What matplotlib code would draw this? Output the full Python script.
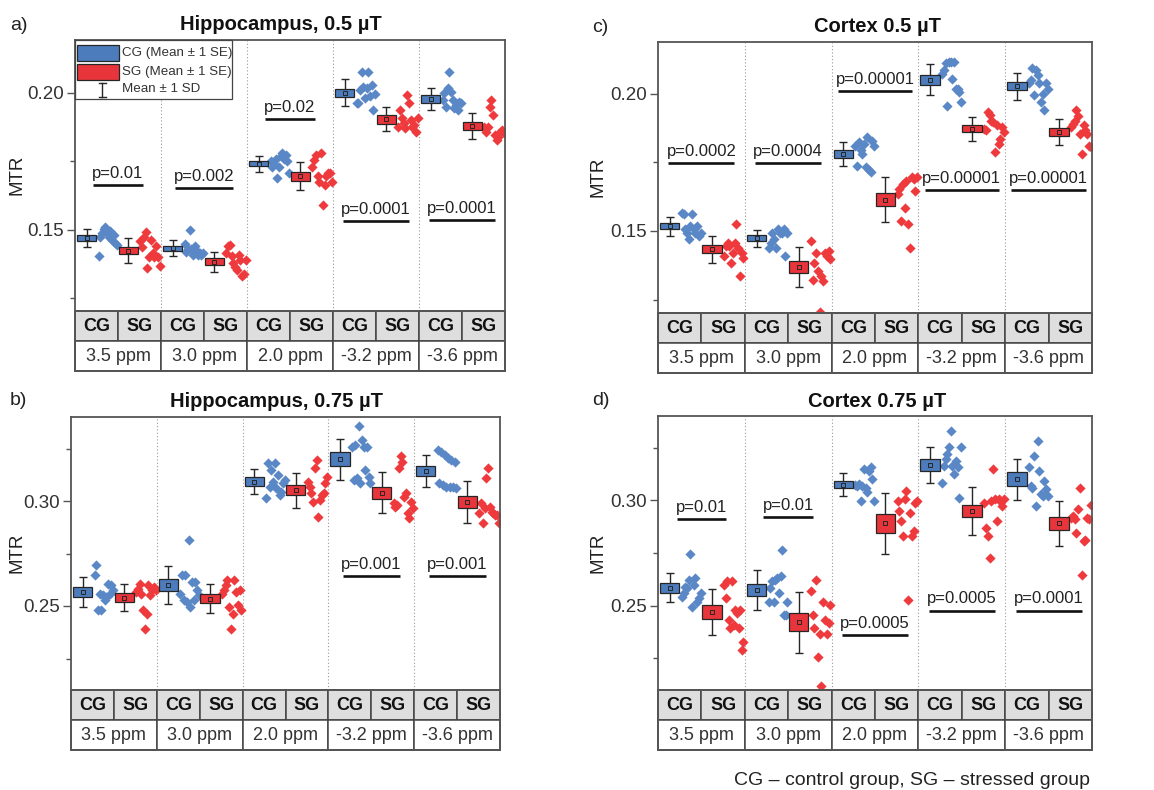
import numpy as np
import matplotlib.pyplot as plt
from matplotlib.patches import Rectangle

plt.rcParams["font.family"] = ["Liberation Sans", "DejaVu Sans"]

FIG_W, FIG_H = 1154, 790

shifts = ["3.5 ppm", "3.0 ppm", "2.0 ppm", "-3.2 ppm", "-3.6 ppm"]
groups = ["CG", "SG"]

# --- Hippocampus, 0.5 uT ---
hip05_cg_mean = [0.1470, 0.1433, 0.1741, 0.2001, 0.1977]
hip05_cg_se = [0.0011, 0.0009, 0.0009, 0.0015, 0.0014]
hip05_cg_sd = [0.0032, 0.0029, 0.0029, 0.0050, 0.0040]
hip05_sg_mean = [0.1424, 0.1384, 0.1696, 0.1904, 0.1879]
hip05_sg_se = [0.0012, 0.0013, 0.0017, 0.0016, 0.0015]
hip05_sg_sd = [0.0045, 0.0037, 0.0052, 0.0044, 0.0047]
hip05_cg_pts = [
    [0.1405, 0.1475, 0.1488, 0.1505, 0.1512, 0.1488, 0.1475, 0.1495, 0.1463, 0.1480, 0.1452, 0.1445],
    [0.1450, 0.1420, 0.1430, 0.1500, 0.1430, 0.1410, 0.1440, 0.1427, 0.1410, 0.1415, 0.1410, 0.1415],
    [0.1750, 0.1730, 0.1740, 0.1760, 0.1689, 0.1730, 0.1768, 0.1780, 0.1760, 0.1775, 0.1750, 0.1707],
    [0.1962, 0.1962, 0.2011, 0.2078, 0.2023, 0.1981, 0.2017, 0.2078, 0.1987, 0.2029, 0.1938, 0.1995],
    [0.1974, 0.1999, 0.1950, 0.2017, 0.2078, 0.2005, 0.1974, 0.1944, 0.1956, 0.1938, 0.1968, 0.1962],
]
hip05_sg_pts = [
    [0.1460, 0.1439, 0.1475, 0.1493, 0.1360, 0.1400, 0.1463, 0.1415, 0.1400, 0.1440, 0.1400, 0.1370],
    [0.1415, 0.1440, 0.1445, 0.1403, 0.1378, 0.1366, 0.1354, 0.1409, 0.1390, 0.1330, 0.1340, 0.1390],
    [0.1730, 0.1755, 0.1774, 0.1695, 0.1676, 0.1780, 0.1590, 0.1664, 0.1695, 0.1707, 0.1707, 0.1676],
    [0.1877, 0.1938, 0.1907, 0.1889, 0.1871, 0.1993, 0.1962, 0.1901, 0.1877, 0.1883, 0.1859, 0.1907],
    [0.1877, 0.1859, 0.1877, 0.1950, 0.1974, 0.1920, 0.1847, 0.1828, 0.1840, 0.1859, 0.1865, 0.1853],
]
hip05_p_text = ["p=0.01", "p=0.002", "p=0.02", "p=0.0001", "p=0.0001"]
hip05_p_y = [0.1663, 0.1654, 0.1904, 0.1533, 0.1536]

# --- Cortex 0.5 uT ---
ctx05_cg_mean = [0.1517, 0.1473, 0.1780, 0.2051, 0.2027]
ctx05_cg_se = [0.0011, 0.0011, 0.0016, 0.0018, 0.0015]
ctx05_cg_sd = [0.0034, 0.0032, 0.0043, 0.0057, 0.0049]
ctx05_sg_mean = [0.1433, 0.1368, 0.1613, 0.1872, 0.1860]
ctx05_sg_se = [0.0015, 0.0023, 0.0024, 0.0012, 0.0015]
ctx05_sg_sd = [0.0049, 0.0072, 0.0082, 0.0044, 0.0048]
ctx05_cg_pts = [
    [0.1567, 0.1560, 0.1506, 0.1494, 0.1470, 0.1518, 0.1560, 0.1506, 0.1494, 0.1518, 0.1480, 0.1494],
    [0.1439, 0.1457, 0.1494, 0.1470, 0.1439, 0.1506, 0.1494, 0.1494, 0.1506, 0.1408, 0.1494],
    [0.1811, 0.1738, 0.1823, 0.1793, 0.1781, 0.1817, 0.1732, 0.1841, 0.1720, 0.1713, 0.1829, 0.1811],
    [0.2073, 0.2085, 0.2110, 0.1955, 0.2116, 0.2116, 0.2055, 0.2116, 0.2018, 0.2018, 0.2006, 0.1970],
    [0.2037, 0.2049, 0.2092, 0.1994, 0.2085, 0.2067, 0.2037, 0.1970, 0.2000, 0.1939, 0.2037, 0.2018],
]
ctx05_sg_pts = [
    [0.1408, 0.1445, 0.1457, 0.1445, 0.1384, 0.1420, 0.1457, 0.1524, 0.1439, 0.1335, 0.1420, 0.1402],
    [0.1463, 0.1323, 0.1384, 0.1420, 0.1353, 0.1205, 0.1335, 0.1317, 0.1420, 0.1408, 0.1427, 0.1396],
    [0.1634, 0.1652, 0.1536, 0.1670, 0.1585, 0.1683, 0.1524, 0.1439, 0.1695, 0.1689, 0.1646, 0.1695],
    [0.1872, 0.1866, 0.1933, 0.1921, 0.1902, 0.1896, 0.1787, 0.1884, 0.1817, 0.1835, 0.1878, 0.1860],
    [0.1878, 0.1890, 0.1902, 0.1939, 0.1920, 0.1854, 0.1780, 0.1884, 0.1866, 0.1854, 0.1811, 0.1805],
]
ctx05_p_text = ["p=0.0002", "p=0.0004", "p=0.00001", "p=0.00001", "p=0.00001"]
ctx05_p_y = [0.1747, 0.1747, 0.2009, 0.1649, 0.1649]

# --- Hippocampus, 0.75 uT ---
hip075_cg_mean = [0.2567, 0.2600, 0.3092, 0.3199, 0.3143]
hip075_cg_se = [0.0022, 0.0028, 0.0020, 0.0032, 0.0025]
hip075_cg_sd = [0.0070, 0.0089, 0.0061, 0.0097, 0.0077]
hip075_sg_mean = [0.2540, 0.2535, 0.3052, 0.3040, 0.2995]
hip075_sg_se = [0.0020, 0.0021, 0.0024, 0.0029, 0.0029]
hip075_sg_sd = [0.0063, 0.0070, 0.0083, 0.0096, 0.0099]
hip075_cg_pts = [
    [0.2647, 0.2694, 0.2479, 0.2559, 0.2479, 0.2551, 0.2527, 0.2543, 0.2607, 0.2559, 0.2599, 0.2575],
    [0.2559, 0.2647, 0.2527, 0.2647, 0.2519, 0.2814, 0.2495, 0.2615, 0.2527, 0.2615, 0.2575, 0.2551],
    [0.3013, 0.3180, 0.3068, 0.3148, 0.3092, 0.3180, 0.3061, 0.3124, 0.3029, 0.3045, 0.3084, 0.3100],
    [0.3259, 0.3100, 0.3267, 0.3108, 0.3355, 0.3084, 0.3291, 0.3259, 0.3148, 0.3259, 0.3116, 0.3084],
    [0.3243, 0.3084, 0.3235, 0.3076, 0.3220, 0.3068, 0.3204, 0.3068, 0.3196, 0.3068, 0.3188, 0.3060],
]
hip075_sg_pts = [
    [0.2567, 0.2583, 0.2607, 0.2559, 0.2479, 0.2392, 0.2463, 0.2599, 0.2551, 0.2575, 0.2591, 0.2575],
    [0.2559, 0.2575, 0.2599, 0.2623, 0.2495, 0.2392, 0.2463, 0.2623, 0.2567, 0.2503, 0.2575, 0.2479],
    [0.3092, 0.3068, 0.3037, 0.2997, 0.3156, 0.3196, 0.2925, 0.3005, 0.3029, 0.3037, 0.3084, 0.3116],
    [0.2989, 0.2973, 0.2981, 0.3156, 0.3212, 0.3188, 0.3021, 0.3037, 0.2941, 0.2917, 0.2997, 0.2965],
    [0.2941, 0.2989, 0.2893, 0.2965, 0.3108, 0.3156, 0.2973, 0.2949, 0.2941, 0.2933, 0.2933, 0.2893],
]
hip075_p_text = [None, None, None, "p=0.001", "p=0.001"]
hip075_p_y = [None, None, None, 0.2644, 0.2642]

# --- Cortex 0.75 uT ---
ctx075_cg_mean = [0.2585, 0.2573, 0.3075, 0.3166, 0.3100]
ctx075_cg_se = [0.0024, 0.0029, 0.0016, 0.0029, 0.0032]
ctx075_cg_sd = [0.0068, 0.0094, 0.0053, 0.0086, 0.0097]
ctx075_sg_mean = [0.2471, 0.2422, 0.2890, 0.2949, 0.2890]
ctx075_sg_se = [0.0034, 0.0041, 0.0044, 0.0030, 0.0032]
ctx075_sg_sd = [0.0110, 0.0145, 0.0143, 0.0113, 0.0105]
ctx075_cg_pts = [
    [0.2543, 0.2559, 0.2591, 0.2583, 0.2623, 0.2747, 0.2495, 0.2599, 0.2631, 0.2519, 0.2535, 0.2559],
    [0.2519, 0.2583, 0.2615, 0.2519, 0.2623, 0.2631, 0.2559, 0.2639, 0.2766, 0.2456, 0.2456, 0.2519],
    [0.3072, 0.3068, 0.3076, 0.2997, 0.3068, 0.3148, 0.3060, 0.3040, 0.3140, 0.3156, 0.3100, 0.2997],
    [0.3084, 0.3164, 0.3196, 0.3220, 0.3252, 0.3331, 0.3164, 0.3124, 0.3188, 0.3156, 0.3013, 0.3252],
    [0.3156, 0.3068, 0.3060, 0.3212, 0.2973, 0.3283, 0.3140, 0.3029, 0.3021, 0.3092, 0.3052, 0.3021],
]
ctx075_sg_pts = [
    [0.2599, 0.2535, 0.2615, 0.2432, 0.2392, 0.2615, 0.2408, 0.2480, 0.2464, 0.2392, 0.2480, 0.2288, 0.2328],
    [0.2572, 0.2456, 0.2392, 0.2623, 0.2257, 0.2368, 0.2121, 0.2519, 0.2432, 0.2368, 0.2416, 0.2503],
    [0.2997, 0.2949, 0.2901, 0.2829, 0.3005, 0.3045, 0.2527, 0.2941, 0.2829, 0.2853, 0.2989, 0.2997],
    [0.2989, 0.2869, 0.2829, 0.2726, 0.2997, 0.3148, 0.3005, 0.2901, 0.3005, 0.2997, 0.2973, 0.3005],
    [0.2917, 0.2925, 0.2909, 0.2845, 0.2957, 0.3060, 0.2647, 0.2806, 0.2814, 0.2917, 0.2909, 0.2976],
]
ctx075_p_text = ["p=0.01", "p=0.01", "p=0.0005", "p=0.0005", "p=0.0001"]
ctx075_p_y = [0.2912, 0.2920, 0.2360, 0.2477, 0.2477]

CG_BOX = "#4d7cbc"
CG_DOT = "#5a87c6"
SG_BOX = "#e8353b"
SG_DOT = "#ee3a3d"
EDGE = "#262626"
FRAME = "#555555"
CELL_GRAY = "#dedede"


def fx(x):
    return x / FIG_W


def fy(y):
    return 1 - y / FIG_H


def px_axes(fig, x0, y0, x1, y1):
    return fig.add_axes([fx(x0), fy(y1), (x1 - x0) / FIG_W, (y1 - y0) / FIG_H])


def draw_group(ax, xc, mean, se, sd, face):
    ax.errorbar([xc], [mean], yerr=[sd], fmt="none", ecolor=EDGE, elinewidth=1.0,
                capsize=2.6, capthick=1.0, zorder=3)
    ax.add_patch(Rectangle((xc - 0.225, mean - se), 0.45, 2 * se, facecolor=face,
                           edgecolor=EDGE, linewidth=0.9, zorder=4))
    ax.plot([xc], [mean], marker="s", ms=3.2, mfc=face, mec=EDGE, mew=0.7, zorder=5)


def draw_panel(fig, box, ylim, major, minor, cg_mean, cg_se, cg_sd, sg_mean, sg_se, sg_sd,
               cg_pts, sg_pts, p_text, p_y):
    x0, y0, x1, y1 = box
    ax = px_axes(fig, x0, y0, x1, y1)
    ax.set_xlim(0, 10)
    ax.set_ylim(*ylim)
    for i in range(5):
        base = 2 * i
        draw_group(ax, base + 0.27, cg_mean[i], cg_se[i], cg_sd[i], CG_BOX)
        draw_group(ax, base + 1.24, sg_mean[i], sg_se[i], sg_sd[i], SG_BOX)
        xs = np.linspace(base + 0.55, base + 0.98, len(cg_pts[i]))
        ax.scatter(xs, cg_pts[i], marker="D", s=27, color=CG_DOT, linewidths=0, zorder=2)
        xs = np.linspace(base + 1.52, base + 1.97, len(sg_pts[i]))
        ax.scatter(xs, sg_pts[i], marker="D", s=27, color=SG_DOT, linewidths=0, zorder=2)
        if p_text[i] is not None:
            half = 0.095 * len(p_text[i])
            ax.plot([base + 1 - half, base + 1 + half], [p_y[i], p_y[i]], color="#111111",
                    lw=1.9, solid_capstyle="butt", zorder=3)
            ax.annotate(p_text[i], (base + 1, p_y[i]), xytext=(0, 3), textcoords="offset points",
                        ha="center", va="bottom", fontsize=12, color="#222222")
    for xv in (2, 4, 6, 8):
        ax.axvline(xv, color="#9a9a9a", lw=0.8, ls=(0, (1, 2)), zorder=1)
    ax.set_xticks([])
    ax.set_yticks(major)
    ax.set_yticks(minor, minor=True)
    ax.set_yticklabels(["%.2f" % v for v in major])
    ax.tick_params(axis="y", which="major", length=6, width=1, color=FRAME,
                   labelsize=13.5, labelcolor="#333333", pad=2)
    ax.tick_params(axis="y", which="minor", length=3.5, width=1, color=FRAME)
    for sp in ax.spines.values():
        sp.set_color(FRAME)
        sp.set_linewidth(1.3)

    # category table under the plot
    tb = px_axes(fig, x0, y1, x1, y1 + 60)
    tb.set_xlim(0, 10)
    tb.set_ylim(0, 2)
    tb.axis("off")
    for i in range(5):
        for k, g in enumerate(groups):
            tb.add_patch(Rectangle((2 * i + k, 1), 1, 1, facecolor=CELL_GRAY,
                                   edgecolor="#444444", lw=1.1, clip_on=False))
            tb.text(2 * i + k + 0.5, 1.5, g, ha="center", va="center", fontsize=13,
                    fontweight="bold", color="#111111")
        tb.add_patch(Rectangle((2 * i, 0), 2, 1, facecolor="white",
                               edgecolor="#444444", lw=1.1, clip_on=False))
        tb.text(2 * i + 1, 0.48, shifts[i], ha="center", va="center", fontsize=13,
                color="#333333")
    tb.add_patch(Rectangle((0, 0), 10, 2, facecolor="none", edgecolor=FRAME, lw=1.4,
                           clip_on=False))
    return ax


fig = plt.figure(figsize=(FIG_W / 100, FIG_H / 100), dpi=100)

draw_panel(fig, (75, 40, 505, 311), (0.1204, 0.2193), [0.15, 0.20], [0.125, 0.175],
           hip05_cg_mean, hip05_cg_se, hip05_cg_sd, hip05_sg_mean, hip05_sg_se, hip05_sg_sd,
           hip05_cg_pts, hip05_sg_pts, hip05_p_text, hip05_p_y)
draw_panel(fig, (658, 42, 1092, 313), (0.1201, 0.2188), [0.15, 0.20], [0.125, 0.175],
           ctx05_cg_mean, ctx05_cg_se, ctx05_cg_sd, ctx05_sg_mean, ctx05_sg_se, ctx05_sg_sd,
           ctx05_cg_pts, ctx05_sg_pts, ctx05_p_text, ctx05_p_y)
draw_panel(fig, (71, 417, 500, 690), (0.21, 0.34), [0.25, 0.30], [0.225, 0.275, 0.325],
           hip075_cg_mean, hip075_cg_se, hip075_cg_sd, hip075_sg_mean, hip075_sg_se, hip075_sg_sd,
           hip075_cg_pts, hip075_sg_pts, hip075_p_text, hip075_p_y)
draw_panel(fig, (658, 416, 1092, 690), (0.21, 0.34), [0.25, 0.30], [0.225, 0.275, 0.325],
           ctx075_cg_mean, ctx075_cg_se, ctx075_cg_sd, ctx075_sg_mean, ctx075_sg_se, ctx075_sg_sd,
           ctx075_cg_pts, ctx075_sg_pts, ctx075_p_text, ctx075_p_y)

# titles, panel letters, axis labels
titles = [("Hippocampus, 0.5 µT", 281, 30), ("Cortex 0.5 µT", 877, 32),
          ("Hippocampus, 0.75 µT", 277, 407), ("Cortex 0.75 µT", 877, 407)]
for text, x, y in titles:
    fig.text(fx(x), fy(y), text, ha="center", va="baseline", fontsize=14.5,
             fontweight="bold", color="#111111")
for text, x, y in [("a)", 10, 30), ("c)", 592, 32), ("b)", 10, 405), ("d)", 592, 405)]:
    fig.text(fx(x), fy(y), text, ha="left", va="baseline", fontsize=14, color="#222222")
for x, y in [(17, 175), (598, 177), (17, 553), (598, 553)]:
    fig.text(fx(x), fy(y), "MTR", ha="center", va="center", rotation=90, fontsize=13.5,
             color="#222222")

fig.text(fx(1090), fy(785), "CG – control group, SG – stressed group", ha="right",
         va="baseline", fontsize=14, color="#222222")

# legend in panel a, built from patches
fig.patches.append(Rectangle((fx(75), fy(99)), fx(232) - fx(75), fy(40) - fy(99),
                             transform=fig.transFigure, facecolor="white",
                             edgecolor="#444444", lw=0.9, zorder=10))
for color, top in [(CG_BOX, 45), (SG_BOX, 64)]:
    fig.patches.append(Rectangle((fx(77), fy(top + 16)), fx(119) - fx(77), fy(top) - fy(top + 16),
                                 transform=fig.transFigure, facecolor=color,
                                 edgecolor=EDGE, lw=0.9, zorder=11))
fig.lines.append(plt.Line2D([fx(102), fx(102)], [fy(83), fy(97)], transform=fig.transFigure,
                            color=EDGE, lw=1.0, zorder=11))
for yc in (83, 97):
    fig.lines.append(plt.Line2D([fx(98.5), fx(105.5)], [fy(yc), fy(yc)],
                                transform=fig.transFigure, color=EDGE, lw=1.0, zorder=11))
for text, yc in [("CG (Mean ± 1 SE)", 53), ("SG (Mean ± 1 SE)", 72), ("Mean ± 1 SD", 89)]:
    fig.text(fx(122), fy(yc), text, ha="left", va="center", fontsize=9.6, color="#333333",
             zorder=12)

fig.savefig("out.png", dpi=100)
